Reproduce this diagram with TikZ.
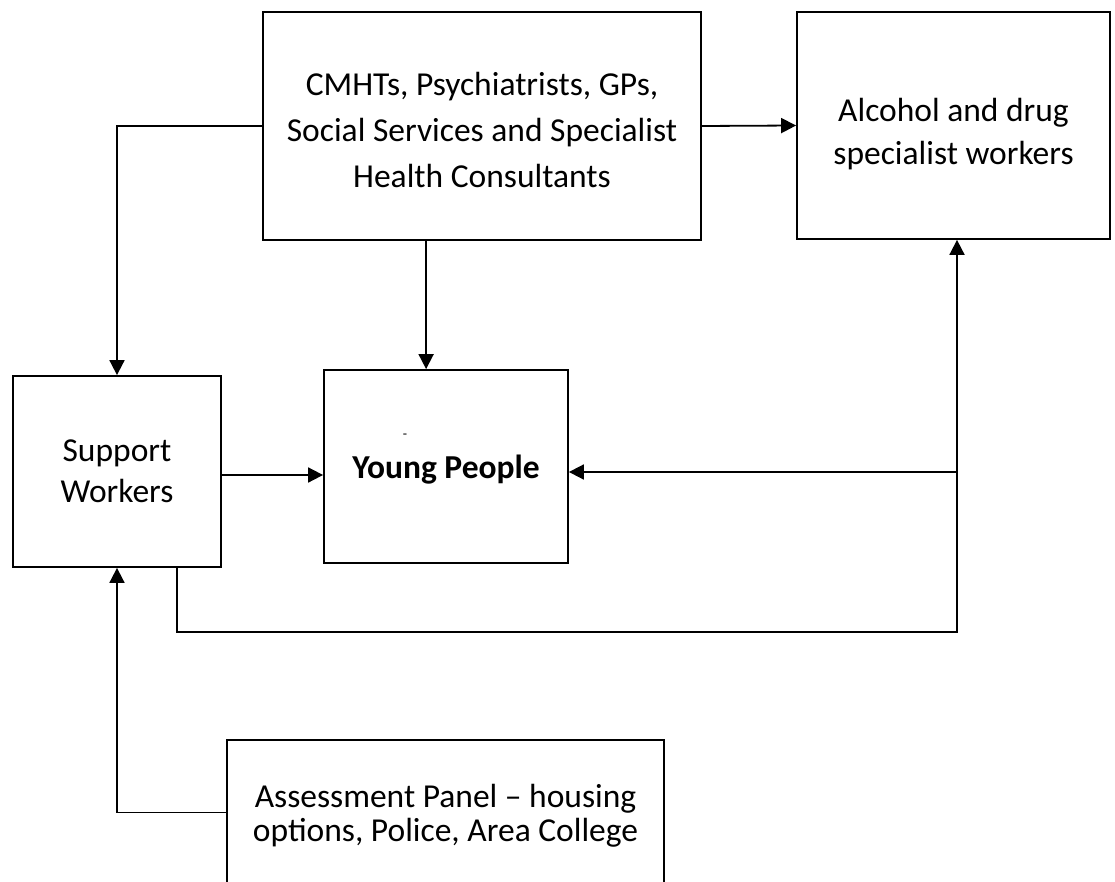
\documentclass[tikz,border=0pt]{standalone}
\usepackage{fontspec}
\setmainfont{Carlito}
\usetikzlibrary{arrows.meta,calc}

\tikzset{
  box/.style={draw, line width=1.8pt, rectangle, inner sep=0pt},
  label text/.style={inner sep=0pt, align=center},
  conn/.style={line width=1.8pt, -{Triangle[length=15pt,width=15pt]}},
}
\newcommand{\txt}[1]{\fontsize{33.5}{#1}\selectfont}

\begin{document}
\begin{tikzpicture}[x=1pt, y=-1pt]
  \useasboundingbox (0,0) rectangle (1115,882);

  % boxes
  \node[box, minimum width=438pt, minimum height=228pt] (cmht) at (482,126) {};
  \node[box, minimum width=313pt, minimum height=227pt] (alc) at (953.5,125.5) {};
  \node[box, minimum width=208pt, minimum height=191pt] (sup) at (117,471.5) {};
  \node[box, minimum width=244pt, minimum height=193pt] (yp) at (446,466.5) {};
  \node[box, minimum width=437pt, minimum height=145pt] (ass) at (445.5,812.5) {};

  % box texts
  \node[label text, font=\txt{46}] (cmhttext) at ([yshift=-4pt]cmht.center)
    {CMHTs, Psychiatrists, GPs,\\Social Services and Specialist\\Health Consultants};
  \node[label text, font=\txt{43}] (alctext) at ([yshift=-9pt]alc.center)
    {Alcohol and drug\\specialist workers};
  \node[label text, font=\txt{41}] (suptext) at (sup.center) {Support\\Workers};
  \node[label text, font=\txt{40}\bfseries] (yptext) at ([yshift=-3pt]yp.center) {Young People};
  \node[inner sep=0pt, font=\fontsize{14}{14}\selectfont] (dash) at (405,436) {-};
  \node[label text, font=\txt{34}] (asstext) at ([yshift=-3pt]ass.center)
    {Assessment Panel -- housing\\options, Police, Area College};

  % junctions of the feedback loop
  \coordinate (corner) at (957,632);
  \coordinate (junct) at (957,472);
  \coordinate (cdown) at ([xshift=164pt]cmht.south west);
  \coordinate (sdown) at ([xshift=165pt]sup.south west);
  \coordinate (sright) at ([yshift=-3.5pt]sup.east);

  % connectors
  \draw[conn] (cmht.west) -| (sup.north);
  \draw[conn] (cmht.east) -- (alc.west);
  \draw[conn] (cdown) -- (cdown |- yp.north);
  \draw[conn] (sright) -- (sright -| yp.west);
  \draw[conn] (sdown) |- (corner) -- (corner |- alc.south);
  \draw[conn] (junct) -- (junct -| yp.east);
  \draw[conn] (ass.west) -| (sup.south);
\end{tikzpicture}
\end{document}
